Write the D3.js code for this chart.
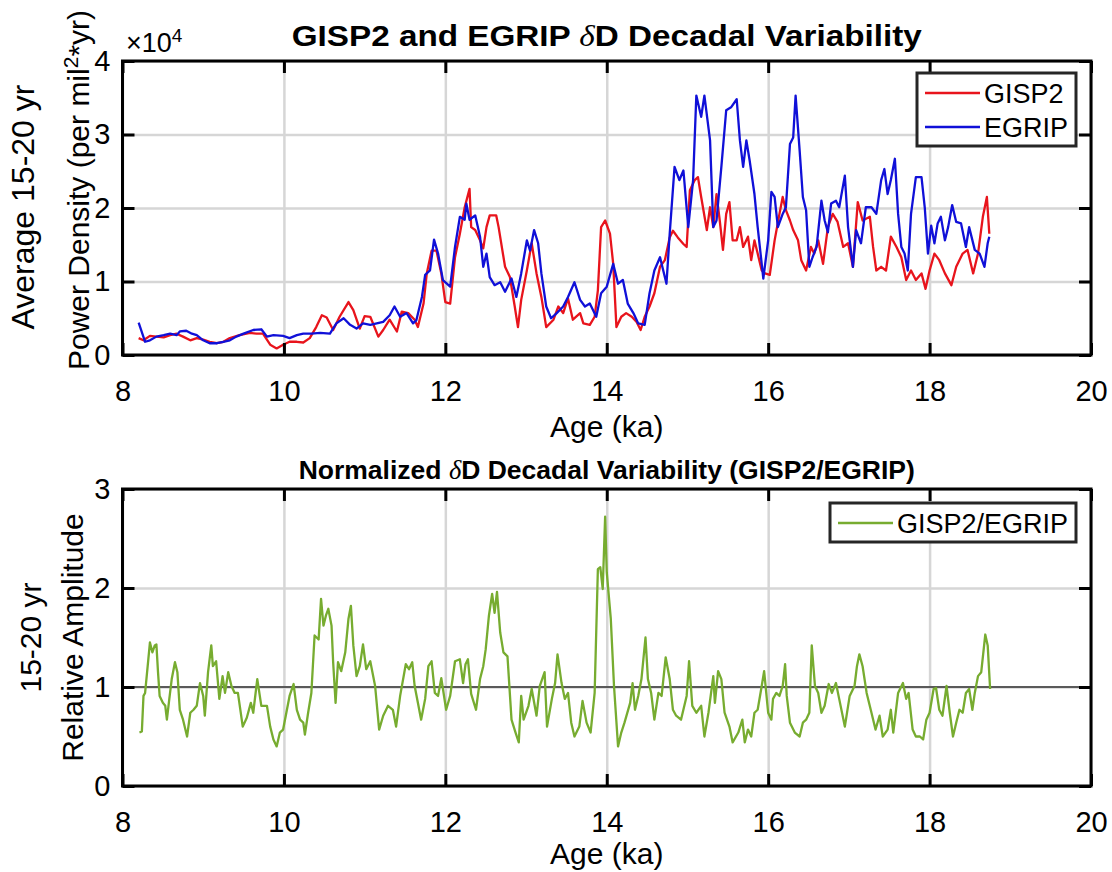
<!DOCTYPE html>
<html>
<head>
<meta charset="utf-8">
<script src="https://cdn.jsdelivr.net/npm/d3@7"></script>
<style>
  body { margin: 0; background: #fff; }
  text { font-family: "Liberation Sans", Arial, sans-serif; fill: #000; }
</style>
</head>
<body>
<svg id="chart" width="1112" height="872"></svg>
<script>
// [age (ka), power density x10^4]
const gisp2 = [[8.20,0.23],[8.26,0.20],[8.34,0.26],[8.42,0.25],[8.51,0.24],[8.59,0.27],[8.67,0.29],[8.75,0.25],[8.84,0.20],[8.92,0.23],[9.00,0.21],[9.08,0.18],[9.17,0.16],[9.25,0.18],[9.33,0.23],[9.45,0.27],[9.58,0.30],[9.66,0.29],[9.74,0.29],[9.83,0.14],[9.91,0.09],[9.99,0.14],[10.07,0.18],[10.16,0.18],[10.24,0.17],[10.32,0.23],[10.40,0.38],[10.47,0.54],[10.53,0.51],[10.61,0.34],[10.69,0.52],[10.80,0.72],[10.86,0.61],[10.94,0.36],[11.00,0.53],[11.07,0.52],[11.17,0.25],[11.23,0.34],[11.31,0.48],[11.40,0.32],[11.46,0.59],[11.54,0.57],[11.62,0.48],[11.66,0.38],[11.73,0.70],[11.77,1.11],[11.83,1.42],[11.89,1.42],[11.95,1.11],[12.00,0.72],[12.06,0.70],[12.12,1.33],[12.18,1.65],[12.24,2.01],[12.30,2.26],[12.32,1.74],[12.37,1.70],[12.43,1.56],[12.47,1.45],[12.51,1.74],[12.55,1.90],[12.63,1.90],[12.66,1.74],[12.74,1.20],[12.80,1.06],[12.86,0.66],[12.90,0.38],[12.94,0.75],[13.01,1.15],[13.07,1.52],[13.13,1.11],[13.19,0.79],[13.25,0.38],[13.34,0.48],[13.40,0.66],[13.46,0.57],[13.52,0.77],[13.58,0.48],[13.67,0.57],[13.71,0.43],[13.79,0.41],[13.85,0.52],[13.89,0.88],[13.93,1.74],[13.98,1.83],[14.04,1.65],[14.08,1.24],[14.12,0.38],[14.18,0.52],[14.24,0.57],[14.31,0.52],[14.37,0.45],[14.42,0.34],[14.47,0.52],[14.53,0.66],[14.59,0.84],[14.66,1.20],[14.72,1.29],[14.78,1.60],[14.82,1.69],[14.88,1.60],[14.95,1.51],[14.99,1.47],[15.03,2.24],[15.09,2.38],[15.13,2.42],[15.17,2.15],[15.24,1.70],[15.28,2.01],[15.32,1.74],[15.36,2.19],[15.40,1.83],[15.44,1.43],[15.48,1.92],[15.52,2.08],[15.56,1.56],[15.61,1.56],[15.65,1.74],[15.69,1.47],[15.75,1.61],[15.79,1.29],[15.83,1.56],[15.87,1.38],[15.92,1.15],[15.96,1.11],[16.02,1.09],[16.08,1.56],[16.14,1.92],[16.18,2.15],[16.22,1.97],[16.27,1.83],[16.31,1.70],[16.37,1.56],[16.41,1.29],[16.47,1.15],[16.53,1.47],[16.57,1.38],[16.62,1.56],[16.68,1.24],[16.74,1.74],[16.80,1.92],[16.86,1.81],[16.93,1.47],[16.99,1.52],[17.05,1.20],[17.11,2.08],[17.17,1.83],[17.26,1.88],[17.30,1.47],[17.34,1.15],[17.40,1.20],[17.46,1.15],[17.52,1.61],[17.59,1.47],[17.65,1.33],[17.71,1.02],[17.77,1.15],[17.83,1.02],[17.90,1.11],[17.95,0.90],[18.00,1.15],[18.06,1.38],[18.12,1.29],[18.19,1.11],[18.27,0.95],[18.33,1.20],[18.41,1.38],[18.47,1.43],[18.54,1.11],[18.60,1.38],[18.66,1.88],[18.71,2.15],[18.74,1.65]];

const egrip = [[8.20,0.44],[8.28,0.18],[8.34,0.20],[8.42,0.25],[8.51,0.27],[8.59,0.29],[8.67,0.27],[8.71,0.32],[8.79,0.33],[8.86,0.29],[8.92,0.27],[9.00,0.20],[9.08,0.16],[9.17,0.16],[9.25,0.18],[9.33,0.20],[9.41,0.25],[9.50,0.29],[9.62,0.34],[9.72,0.35],[9.79,0.25],[9.87,0.27],[9.99,0.26],[10.07,0.23],[10.16,0.27],[10.24,0.29],[10.34,0.29],[10.45,0.30],[10.57,0.29],[10.65,0.43],[10.74,0.50],[10.82,0.41],[10.90,0.36],[10.98,0.43],[11.07,0.41],[11.15,0.43],[11.23,0.45],[11.31,0.54],[11.37,0.66],[11.44,0.52],[11.52,0.57],[11.60,0.43],[11.64,0.47],[11.71,0.79],[11.75,1.09],[11.81,1.15],[11.86,1.57],[11.91,1.38],[11.97,1.02],[12.06,0.93],[12.12,1.47],[12.18,1.88],[12.24,1.84],[12.26,2.06],[12.30,1.84],[12.37,1.90],[12.43,1.61],[12.47,1.20],[12.51,1.38],[12.55,1.06],[12.61,0.95],[12.68,0.99],[12.74,0.86],[12.82,1.04],[12.88,0.79],[12.94,1.11],[13.01,1.56],[13.05,1.42],[13.10,1.70],[13.15,1.52],[13.19,1.11],[13.25,0.66],[13.31,0.50],[13.38,0.57],[13.46,0.66],[13.52,0.79],[13.60,0.99],[13.67,0.75],[13.73,0.66],[13.79,0.70],[13.87,0.52],[13.93,0.84],[14.00,0.93],[14.08,1.24],[14.14,0.97],[14.20,1.02],[14.26,0.70],[14.33,0.57],[14.39,0.43],[14.47,0.41],[14.53,0.84],[14.59,1.15],[14.66,1.33],[14.74,0.97],[14.78,1.65],[14.84,2.56],[14.90,2.38],[14.95,2.51],[15.01,1.74],[15.07,2.38],[15.11,3.53],[15.17,3.24],[15.21,3.53],[15.28,2.92],[15.32,1.74],[15.36,1.83],[15.42,2.56],[15.48,3.33],[15.54,3.37],[15.61,3.48],[15.65,2.92],[15.69,2.56],[15.73,2.92],[15.77,2.65],[15.83,2.19],[15.87,1.74],[15.94,1.04],[16.00,1.56],[16.04,2.22],[16.08,2.15],[16.12,1.74],[16.18,1.92],[16.22,2.01],[16.27,2.87],[16.31,2.96],[16.34,3.53],[16.39,2.78],[16.43,2.15],[16.47,1.97],[16.51,1.20],[16.55,1.33],[16.60,1.47],[16.66,2.10],[16.70,1.83],[16.74,1.67],[16.78,2.06],[16.84,2.10],[16.88,2.01],[16.95,2.44],[16.99,1.74],[17.05,1.20],[17.09,1.70],[17.15,1.52],[17.21,2.01],[17.28,2.01],[17.34,1.92],[17.40,2.38],[17.44,2.53],[17.48,2.19],[17.52,2.38],[17.57,2.67],[17.61,1.92],[17.65,1.47],[17.69,1.38],[17.73,1.15],[17.77,1.92],[17.83,2.42],[17.90,2.42],[17.94,2.01],[17.98,1.38],[18.02,1.76],[18.06,1.52],[18.10,1.79],[18.14,1.88],[18.19,1.56],[18.23,1.74],[18.28,2.04],[18.33,1.81],[18.39,1.79],[18.45,1.47],[18.49,1.74],[18.56,1.43],[18.62,1.38],[18.68,1.20],[18.72,1.52],[18.74,1.61]];

// [age (ka), relative amplitude GISP2/EGRIP]
const ratio = [[8.21,0.54],[8.24,0.55],[8.26,0.91],[8.28,0.94],[8.32,1.28],[8.34,1.45],[8.37,1.35],[8.40,1.42],[8.42,1.43],[8.44,1.15],[8.46,0.91],[8.50,0.84],[8.53,0.81],[8.55,0.67],[8.58,0.88],[8.61,1.08],[8.65,1.25],[8.68,1.15],[8.71,0.77],[8.75,0.67],[8.80,0.50],[8.84,0.74],[8.88,0.77],[8.92,0.81],[8.96,1.04],[9.00,0.91],[9.02,0.71],[9.06,1.15],[9.10,1.42],[9.12,1.21],[9.16,1.26],[9.20,0.88],[9.24,1.11],[9.27,0.94],[9.31,1.15],[9.35,1.01],[9.39,0.94],[9.43,0.94],[9.49,0.60],[9.54,0.69],[9.59,0.84],[9.62,0.74],[9.67,1.08],[9.72,0.81],[9.79,0.81],[9.83,0.60],[9.87,0.47],[9.91,0.40],[9.95,0.54],[9.99,0.57],[10.03,0.74],[10.07,0.91],[10.12,1.03],[10.16,0.77],[10.20,0.67],[10.24,0.64],[10.26,0.52],[10.30,0.74],[10.34,0.94],[10.38,1.52],[10.43,1.48],[10.46,1.89],[10.49,1.62],[10.52,1.72],[10.55,1.79],[10.59,1.62],[10.61,1.25],[10.64,0.84],[10.67,1.25],[10.71,1.16],[10.76,1.35],[10.80,1.69],[10.83,1.82],[10.86,1.42],[10.90,1.11],[10.94,1.21],[10.98,1.43],[11.02,1.18],[11.07,1.26],[11.13,1.01],[11.18,0.57],[11.23,0.71],[11.29,0.81],[11.35,0.77],[11.39,0.60],[11.44,0.91],[11.51,1.23],[11.55,1.18],[11.59,1.25],[11.62,1.01],[11.66,0.84],[11.70,0.67],[11.75,0.88],[11.79,1.21],[11.83,1.26],[11.87,0.94],[11.91,0.91],[11.95,1.09],[12.01,0.77],[12.06,0.91],[12.12,1.26],[12.18,1.28],[12.22,1.04],[12.25,1.23],[12.28,1.28],[12.32,0.93],[12.38,0.77],[12.43,1.08],[12.47,1.21],[12.50,1.38],[12.54,1.72],[12.58,1.94],[12.61,1.75],[12.64,1.96],[12.68,1.55],[12.72,1.35],[12.77,1.31],[12.82,0.67],[12.87,0.54],[12.91,0.44],[12.94,0.91],[12.97,0.67],[13.03,0.81],[13.07,0.98],[13.13,0.71],[13.17,1.01],[13.23,1.15],[13.26,0.60],[13.32,0.88],[13.36,1.04],[13.39,1.33],[13.44,1.04],[13.48,0.88],[13.52,0.94],[13.56,0.64],[13.60,0.50],[13.66,0.60],[13.70,0.86],[13.75,0.64],[13.80,0.54],[13.85,0.94],[13.89,2.19],[13.92,2.21],[13.95,1.99],[13.98,2.72],[14.00,2.16],[14.05,1.69],[14.09,1.01],[14.14,0.40],[14.18,0.54],[14.22,0.64],[14.29,0.84],[14.32,1.04],[14.35,0.77],[14.39,0.91],[14.43,1.08],[14.48,1.50],[14.51,1.08],[14.55,0.94],[14.59,0.67],[14.64,0.94],[14.68,0.91],[14.73,1.30],[14.78,1.08],[14.82,0.77],[14.86,0.71],[14.92,0.67],[14.99,0.91],[15.02,1.26],[15.06,0.81],[15.11,0.74],[15.17,0.81],[15.21,0.50],[15.26,0.74],[15.32,1.11],[15.34,0.84],[15.38,1.16],[15.42,1.08],[15.46,0.74],[15.52,0.60],[15.56,0.44],[15.63,0.54],[15.68,0.67],[15.71,0.44],[15.75,0.57],[15.79,0.50],[15.83,0.74],[15.87,0.77],[15.92,1.01],[15.95,1.16],[16.00,0.74],[16.04,0.67],[16.06,0.88],[16.10,0.94],[16.14,0.91],[16.18,1.01],[16.21,1.23],[16.23,0.91],[16.27,0.64],[16.33,0.54],[16.39,0.50],[16.43,0.64],[16.47,0.67],[16.51,0.74],[16.54,1.42],[16.58,1.01],[16.62,0.94],[16.66,0.74],[16.70,0.81],[16.75,1.03],[16.79,0.94],[16.84,1.04],[16.88,0.88],[16.95,0.60],[17.01,0.91],[17.07,1.01],[17.10,1.21],[17.13,1.33],[17.17,1.21],[17.22,0.94],[17.28,0.74],[17.33,0.57],[17.38,0.71],[17.42,0.50],[17.48,0.57],[17.52,0.77],[17.55,0.54],[17.61,0.94],[17.67,1.04],[17.71,0.88],[17.74,0.94],[17.79,0.57],[17.83,0.50],[17.88,0.50],[17.92,0.47],[17.96,0.67],[18.00,0.74],[18.05,0.98],[18.08,0.99],[18.12,0.77],[18.16,0.71],[18.21,1.01],[18.25,0.74],[18.29,0.50],[18.33,0.64],[18.37,0.77],[18.41,0.74],[18.45,0.94],[18.49,0.98],[18.53,0.77],[18.56,0.94],[18.60,1.11],[18.64,1.15],[18.69,1.53],[18.72,1.42],[18.75,0.98]];

const xTicks = [8, 10, 12, 14, 16, 18, 20];
const topYTicks = [0, 1, 2, 3, 4];
const bottomYTicks = [0, 1, 2, 3];

const svg = d3.select('#chart');
const font = '"Liberation Sans", Arial, sans-serif';

const x = d3.scaleLinear().domain([8, 20]).range([122.5, 1091]);

const drawPanel = (cfg) => {
    const y = d3.scaleLinear().domain(cfg.yDomain).range([cfg.bottom, cfg.top]);
    const h = cfg.bottom - cfg.top;
    const w = x.range()[1] - x.range()[0];
    const g = svg.append('g');

    // grid
    g.append('g')
        .attr('transform', `translate(0, ${cfg.bottom})`)
        .call(d3.axisBottom(x).tickValues(xTicks).tickSize(-h).tickFormat(''))
        .call(s => {
            s.select('.domain').remove();
            s.selectAll('line').attr('stroke', '#d6d6d6').attr('stroke-width', 2.5);
        });
    g.append('g')
        .attr('transform', `translate(${x.range()[0]}, 0)`)
        .call(d3.axisLeft(y).tickValues(cfg.yTicks).tickSize(-w).tickFormat(''))
        .call(s => {
            s.select('.domain').remove();
            s.selectAll('line').attr('stroke', '#d6d6d6').attr('stroke-width', 2.5);
        });

    if (cfg.refLine !== undefined) {
        g.append('line')
            .attr('x1', x.range()[0]).attr('x2', x.range()[1])
            .attr('y1', y(cfg.refLine)).attr('y2', y(cfg.refLine))
            .attr('stroke', '#5a5a5a').attr('stroke-width', 2);
    }

    const line = d3.line().x(d => x(d[0])).y(d => y(d[1]));
    cfg.series.forEach(s => {
        g.append('path')
            .datum(s.data)
            .attr('d', line)
            .attr('fill', 'none')
            .attr('stroke', s.color)
            .attr('stroke-width', 2.3)
            .attr('stroke-linejoin', 'round');
    });

    // box
    g.append('rect')
        .attr('x', x.range()[0]).attr('y', cfg.top)
        .attr('width', w).attr('height', h)
        .attr('fill', 'none').attr('stroke', '#000').attr('stroke-width', 3);

    const styleAxis = s => {
        s.select('.domain').remove();
        s.selectAll('line').attr('stroke', '#000').attr('stroke-width', 3);
        s.selectAll('text').attr('font-size', 29).attr('font-family', font).attr('fill', '#000');
    };

    g.append('g')
        .attr('transform', `translate(0, ${cfg.bottom})`)
        .call(d3.axisBottom(x).tickValues(xTicks).tickSize(-12).tickPadding(cfg.xPad).tickFormat(d3.format('d')))
        .call(styleAxis);
    g.append('g')
        .attr('transform', `translate(0, ${cfg.top})`)
        .call(d3.axisTop(x).tickValues(xTicks).tickSize(-12).tickFormat(''))
        .call(styleAxis);
    g.append('g')
        .attr('transform', `translate(${x.range()[0]}, 0)`)
        .call(d3.axisLeft(y).tickValues(cfg.yTicks).tickSize(-12).tickPadding(12).tickFormat(d3.format('d')))
        .call(styleAxis);
    g.append('g')
        .attr('transform', `translate(${x.range()[1]}, 0)`)
        .call(d3.axisRight(y).tickValues(cfg.yTicks).tickSize(-12).tickFormat(''))
        .call(styleAxis);

    // title
    const t = g.append('text')
        .attr('x', (x.range()[0] + x.range()[1]) / 2)
        .attr('y', cfg.titleY)
        .attr('text-anchor', 'middle')
        .attr('font-size', cfg.titleSize)
        .attr('font-weight', 'bold');
    if (cfg.titleLen) t.attr('textLength', cfg.titleLen).attr('lengthAdjust', 'spacingAndGlyphs');
    cfg.title.forEach(p => {
        const ts = t.append('tspan').text(p.text);
        if (p.delta) ts.attr('font-family', '"Liberation Serif", serif').attr('font-style', 'italic').attr('font-weight', 'normal');
    });

    // x label
    g.append('text')
        .attr('x', (x.range()[0] + x.range()[1]) / 2)
        .attr('y', cfg.xLabelY)
        .attr('text-anchor', 'middle')
        .attr('font-size', 30)
        .text('Age (ka)');

    // y label, two lines
    const midY = (cfg.top + cfg.bottom) / 2;
    cfg.yLabel.forEach(lab => {
        const yt = g.append('text')
            .attr('transform', `translate(${lab.x}, ${lab.cy ?? midY}) rotate(-90)`)
            .attr('text-anchor', 'middle')
            .attr('font-size', lab.size);
        lab.parts.forEach(p => {
            const ts = yt.append('tspan').text(p.text);
            if (p.sup) ts.attr('baseline-shift', 'super').attr('font-size', 21);
        });
    });

    // legend
    const lg = cfg.legend;
    g.append('rect')
        .attr('x', lg.x).attr('y', lg.y).attr('width', lg.w).attr('height', lg.h)
        .attr('fill', '#fff').attr('stroke', '#262626').attr('stroke-width', 3);
    cfg.series.forEach((s, i) => {
        const ly = lg.y + lg.first + i * lg.step;
        g.append('line')
            .attr('x1', lg.x + 8).attr('x2', lg.x + 63)
            .attr('y1', ly).attr('y2', ly)
            .attr('stroke', s.color).attr('stroke-width', 2.3);
        g.append('text')
            .attr('x', lg.x + 67).attr('y', ly + 10)
            .attr('font-size', 27)
            .text(s.name);
    });

    return y;
};

drawPanel({
    top: 61, bottom: 355, yDomain: [0, 4], yTicks: topYTicks, xPad: 25,
    title: [{text: 'GISP2 and EGRIP '}, {text: 'δ', delta: true}, {text: 'D Decadal Variability'}],
    titleY: 46, titleSize: 29, titleLen: 630, xLabelY: 437,
    yLabel: [
        {x: 34, cy: 207, size: 32, parts: [{text: 'Average 15-20 yr'}]},
        {x: 89, cy: 190, size: 30, parts: [{text: 'Power Density (per mil'}, {text: '2', sup: true}, {text: '*yr)'}]}
    ],
    series: [
        {name: 'GISP2', color: '#e8141c', data: gisp2},
        {name: 'EGRIP', color: '#1010d8', data: egrip}
    ],
    legend: {x: 917, y: 73, w: 159, h: 73, first: 20, step: 34}
});

// x10^4 exponent label
svg.append('text')
    .attr('x', 126).attr('y', 52)
    .attr('font-size', 27)
    .text('×10')
    .append('tspan').attr('baseline-shift', 'super').attr('font-size', 19).text('4');

drawPanel({
    top: 489, bottom: 786, yDomain: [0, 3], yTicks: bottomYTicks, xPad: 25, refLine: 1,
    title: [{text: 'Normalized '}, {text: 'δ', delta: true}, {text: 'D Decadal Variability (GISP2/EGRIP)'}],
    titleY: 479, titleSize: 26.5, xLabelY: 864,
    yLabel: [
        {x: 41, size: 30, parts: [{text: '15-20 yr'}]},
        {x: 83, size: 30, parts: [{text: 'Relative Amplitude'}]}
    ],
    series: [
        {name: 'GISP2/EGRIP', color: '#77ac30', data: ratio}
    ],
    legend: {x: 830, y: 503, w: 246, h: 39, first: 20, step: 34}
});
</script>
</body>
</html>
